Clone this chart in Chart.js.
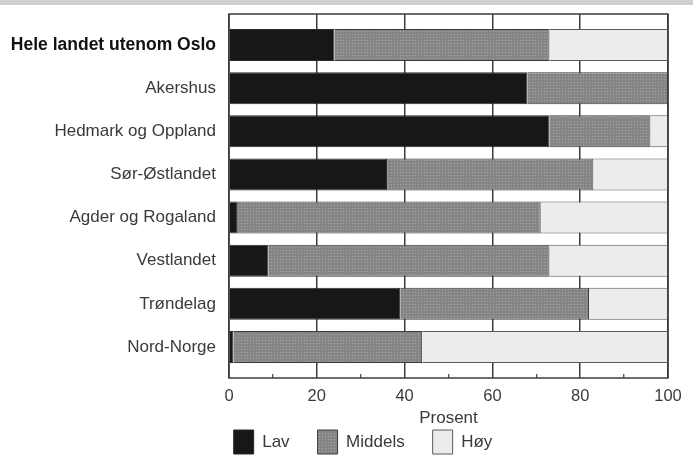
<!DOCTYPE html>
<html>
<head>
<meta charset="utf-8">
<script src="https://cdn.jsdelivr.net/npm/chart.js@4.4.1/dist/chart.umd.min.js"></script>
<style>
  html, body { margin: 0; padding: 0; background: #ffffff; }
  #wrap { position: relative; width: 693px; height: 456px; }
  #strip { position: absolute; left: 0; top: 0; width: 693px; height: 5px; background: #cfcfcf; }
  canvas { display: block; }
</style>
</head>
<body>
<div id="wrap">
  <canvas id="c" width="693" height="456"></canvas>
  <div id="strip"></div>
</div>
<script>
// ---- data ----
const categories = [
  "Hele landet utenom Oslo",
  "Akershus",
  "Hedmark og Oppland",
  "Sør-Østlandet",
  "Agder og Rogaland",
  "Vestlandet",
  "Trøndelag",
  "Nord-Norge"
];
const lav     = [24, 68, 73, 36, 2, 9, 39, 1];
const middels = [49, 32, 23, 47, 69, 64, 43, 43];
const hoy     = [27, 0, 4, 17, 29, 27, 18, 56];
const seriesNames = ["Lav", "Middels", "Høy"];
const xTicks = [0, 20, 40, 60, 80, 100];
const xMinorTicks = [10, 30, 50, 70, 90];
const xTitle = "Prosent";

// ---- styles ----
const FONT = "'Liberation Sans', Arial, sans-serif";
const GRID = '#3c3c3c';
function stipple() {
  const p = document.createElement('canvas');
  p.width = 3; p.height = 3;
  const g = p.getContext('2d');
  g.fillStyle = '#858585'; g.fillRect(0, 0, 3, 3);
  g.fillStyle = '#a6a6a6'; g.fillRect(1, 1, 1, 1);
  return g.createPattern(p, 'repeat');
}
const ctx = document.getElementById('c').getContext('2d');
const midFill = stipple();

const toPts = arr => arr.map((v, i) => ({ x: v, y: i }));
const isMajor = v => xTicks.includes(v);

const frame = {
  id: 'frame',
  afterLayout(chart) {
    const L = chart.legend;
    if (L) { const shift = 29; L.left += shift; L.right += shift; }
  },
  afterDatasetsDraw(chart) {
    const a = chart.chartArea, g = chart.ctx;
    g.save();
    g.strokeStyle = GRID;
    g.lineWidth = 1.5;
    g.strokeRect(a.left, a.top, a.right - a.left, a.bottom - a.top);
    g.restore();
  }
};

new Chart(ctx, {
  type: 'bar',
  data: {
    datasets: [
      { label: seriesNames[0], data: toPts(lav), backgroundColor: '#171717', borderColor: '#2a2a2a', borderWidth: 1 },
      { label: seriesNames[1], data: toPts(middels), backgroundColor: midFill, borderColor: '#3a3a3a', borderWidth: 1 },
      { label: seriesNames[2], data: toPts(hoy), backgroundColor: '#ececec', borderColor: '#5a5a5a', borderWidth: 1 }
    ]
  },
  options: {
    indexAxis: 'y',
    responsive: false,
    animation: false,
    devicePixelRatio: 1,
    layout: { padding: { left: 0, right: 25, top: 14, bottom: -8 } },
    datasets: { bar: { barPercentage: 0.74, categoryPercentage: 1, grouped: false } },
    scales: {
      x: {
        type: 'linear',
        stacked: true,
        min: 0, max: 100,
        afterBuildTicks: s => { s.ticks = xTicks.concat(xMinorTicks).sort((a, b) => a - b).map(v => ({ value: v })); },
        afterFit: s => { s.height = 24; s.paddingLeft = 0; s.paddingRight = 0; },
        grid: {
          color: c => (c.tick && isMajor(c.tick.value)) ? GRID : 'rgba(0,0,0,0)',
          tickColor: c => (c.tick && isMajor(c.tick.value)) ? 'rgba(0,0,0,0)' : GRID,
          lineWidth: 1.5, drawTicks: true, tickLength: -4, tickWidth: 1.2
        },
        border: { display: false },
        ticks: {
          color: '#3a3a3a', padding: 13, autoSkip: false, maxRotation: 0,
          callback: v => isMajor(v) ? String(v) : '',
          font: { family: FONT, size: 16.5 }
        },
        title: { display: true, text: xTitle, color: '#3a3a3a', padding: { top: 0, bottom: -27 }, font: { family: FONT, size: 17 } }
      },
      y: {
        type: 'linear',
        stacked: true,
        reverse: true,
        offset: false,
        min: -0.72, max: 7.72,
        afterBuildTicks: s => { s.ticks = categories.map((_, i) => ({ value: i })); },
        afterFit: s => { s.width = 229; s.paddingTop = 0; s.paddingBottom = 0; },
        grid: { display: false, drawTicks: false, offset: false },
        border: { display: false },
        ticks: {
          padding: 13,
          autoSkip: false,
          callback: v => categories[v],
          color: c => c.index === 0 ? '#111111' : '#3a3a3a',
          font: c => ({ family: FONT, size: c.index === 0 ? 17.5 : 17, weight: c.index === 0 ? 'bold' : 'normal' })
        }
      }
    },
    plugins: {
      legend: {
        position: 'bottom',
        labels: {
          boxWidth: 20, boxHeight: 24, padding: 28,
          color: '#3a3a3a',
          font: { family: FONT, size: 17 }
        }
      },
      tooltip: { enabled: false }
    }
  },
  plugins: [frame]
});
</script>
</body>
</html>
